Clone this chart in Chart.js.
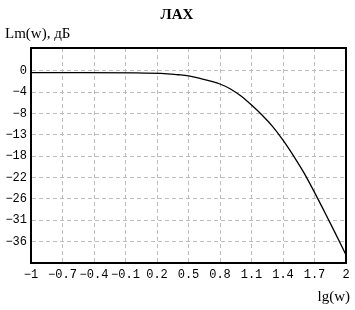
<!DOCTYPE html>
<html>
<head>
<meta charset="utf-8">
<script src="https://cdn.jsdelivr.net/npm/chart.js@4"></script>
<style>
  html, body { margin: 0; padding: 0; background: #fff; }
  #wrap { width: 355px; height: 310px; }
</style>
</head>
<body>
<div id="wrap"><canvas id="lahChart" width="355" height="310"></canvas></div>
<script>
// lg(w) and Lm(w), dB
const lgW = [-1, -0.5, 0, 0.3, 0.4, 0.5, 0.6, 0.7, 0.8, 0.9, 1.0, 1.1, 1.2, 1.3, 1.4, 1.5, 1.6, 1.7, 1.8, 1.9, 2.0];
const lmDb = [-0.36, -0.36, -0.4, -0.6, -0.8, -1.05, -1.5, -2.1, -2.75, -3.8, -5.3, -7.2, -9.3, -11.7, -14.6, -17.9, -21.5, -25.6, -29.9, -34.3, -38.8];

const xTicks = [-1, -0.7, -0.4, -0.1, 0.2, 0.5, 0.8, 1.1, 1.4, 1.7, 2];
const yTicks = [0, -4.5, -9, -13.5, -18, -22.5, -27, -31.5, -36];
const yTickLabels = ['0', '-4', '-8', '-13', '-18', '-22', '-26', '-31', '-36'];

const minus = s => String(s).replace('-', '\u2212');

const textPlugin = {
  id: 'texts',
  afterDraw(chart) {
    const ctx = chart.ctx;
    const a = chart.chartArea;
    ctx.save();
    // frame on top / right
    ctx.strokeStyle = '#000';
    ctx.lineWidth = 2;
    ctx.strokeRect(a.left, a.top, a.right - a.left, a.bottom - a.top);

    ctx.fillStyle = '#000';
    ctx.textBaseline = 'middle';
    ctx.font = 'bold 15px "Liberation Serif"';
    ctx.textAlign = 'center';
    ctx.fillText('ЛАХ', 177, 15);

    ctx.font = '15px "Liberation Serif"';
    ctx.textAlign = 'left';
    ctx.fillText('Lm(w), дБ', 5, 34);

    ctx.textAlign = 'right';
    ctx.fillText('lg(w)', 350, 297);
    ctx.restore();
  }
};

const tickFont = { family: '"Liberation Mono"', size: 12 };

new Chart(document.getElementById('lahChart'), {
  type: 'line',
  data: {
    datasets: [{
      data: lgW.map((x, i) => ({ x: x, y: lmDb[i] })),
      borderColor: '#000',
      borderWidth: 1.3,
      pointRadius: 0,
      cubicInterpolationMode: 'monotone',
      fill: false
    }]
  },
  options: {
    responsive: false,
    animation: false,
    layout: { padding: { top: 48, right: 9, left: 0, bottom: 0 } },
    plugins: { legend: { display: false }, tooltip: { enabled: false }, title: { display: false } },
    scales: {
      x: {
        type: 'linear',
        min: -1,
        max: 2,
        afterBuildTicks: s => { s.ticks = xTicks.map(v => ({ value: v })); },
        afterFit: s => { s.height = 47; },
        ticks: {
          color: '#000',
          font: tickFont,
          padding: 5,
          maxRotation: 0,
          autoSkip: false,
          callback: (v, i) => minus(xTicks[i])
        },
        grid: { color: '#bdbdbd', lineWidth: 1, drawTicks: false },
        border: { display: true, color: '#000', width: 2, dash: [4, 3] }
      },
      y: {
        type: 'linear',
        min: -40.5,
        max: 4.84,
        afterBuildTicks: s => { s.ticks = yTicks.map(v => ({ value: v })); },
        afterFit: s => { s.width = 31; },
        ticks: {
          color: '#000',
          font: tickFont,
          padding: 4,
          autoSkip: false,
          callback: (v, i) => minus(yTickLabels[i])
        },
        grid: { color: '#bdbdbd', lineWidth: 1, drawTicks: false },
        border: { display: true, color: '#000', width: 2, dash: [4, 3] }
      }
    }
  },
  plugins: [textPlugin]
});
</script>
</body>
</html>
